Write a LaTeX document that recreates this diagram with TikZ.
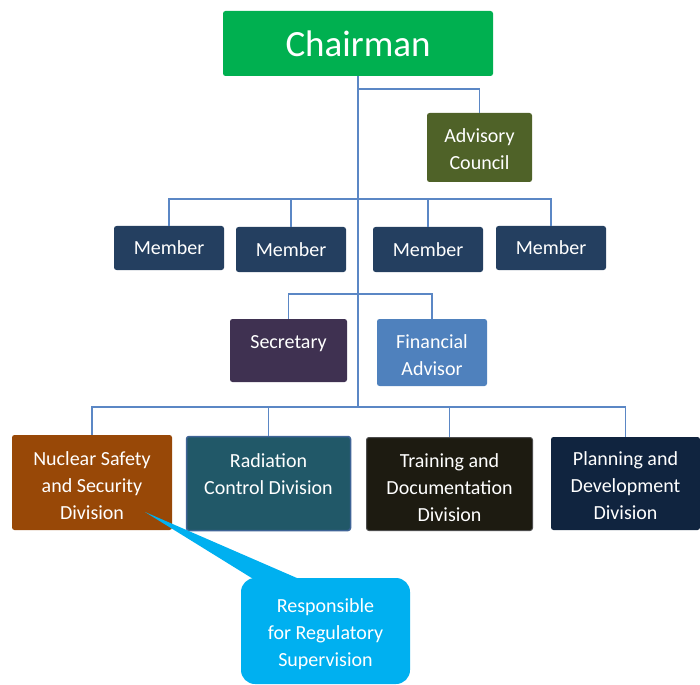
\documentclass[tikz,border=0pt]{standalone}
\usepackage{fontspec}
\setmainfont{Carlito}
\definecolor{cgreen}{HTML}{00B050}
\definecolor{cadv}{HTML}{4F6228}
\definecolor{cmem}{HTML}{243F60}
\definecolor{csec}{HTML}{3F3151}
\definecolor{cfin}{HTML}{4F81BD}
\definecolor{cnuc}{HTML}{984807}
\definecolor{crad}{HTML}{215868}
\definecolor{cradb}{HTML}{3F6496}
\definecolor{ctra}{HTML}{1D1B11}
\definecolor{cpla}{HTML}{10243F}
\definecolor{ccall}{HTML}{00B0F0}
\definecolor{cline}{HTML}{5B87C5}
\tikzset{
  orgbox/.style={rectangle, rounded corners=2.5pt, inner sep=0pt, align=center,
    text=white, font=\fontsize{20}{27}\selectfont},
  lbl/.style={inner sep=0pt, align=center, text=white, font=\fontsize{20}{27}\selectfont},
  conn/.style={draw=cline, line width=1.4pt},
}
\begin{document}
\begin{tikzpicture}[x=1pt,y=-1pt]
\useasboundingbox (0,0) rectangle (700,684);
% coordinates of junctions
\coordinate (advj) at (358,89);
\coordinate (memj) at (358,199);
\coordinate (secj) at (358,294);
\coordinate (divj) at (358,407);

% nodes
\node[orgbox, fill=cgreen, minimum width=270pt, minimum height=65pt, font=\fontsize{37}{40}\selectfont] (chair) at (358,43.5) {Chairman};
\node[orgbox, fill=cadv, minimum width=105pt, minimum height=69pt,
  label={[lbl, yshift=-2pt]center:Advisory\\Council}] (adv) at (479.5,147.5) {};
\node[orgbox, fill=cmem, minimum width=110pt, minimum height=44pt] (m1) at (169,248) {Member};
\node[orgbox, fill=cmem, minimum width=110pt, minimum height=45pt] (m2) at (291,249.5) {Member};
\node[orgbox, fill=cmem, minimum width=110pt, minimum height=45pt] (m3) at (428,249.5) {Member};
\node[orgbox, fill=cmem, minimum width=110pt, minimum height=44pt] (m4) at (551,248) {Member};
\node[orgbox, fill=csec, minimum width=117pt, minimum height=63pt,
  label={[lbl, yshift=7pt]center:Secretary}] (sec) at (288.5,350.5) {};
\node[orgbox, fill=cfin, minimum width=110pt, minimum height=67pt,
  label={[lbl, yshift=-3pt]center:Financial\\Advisor}] (fin) at (432,352.5) {};
\node[orgbox, fill=cnuc, minimum width=160pt, minimum height=95pt,
  label={[lbl, yshift=-3pt]center:Nuclear Safety\\and Security\\Division}] (d1) at (92,482.5) {};
\node[orgbox, fill=crad, draw=cradb, line width=1.5pt, minimum width=164pt, minimum height=94pt,
  label={[lbl, yshift=9pt]center:Radiation\\Control Division}] (d2) at (268.5,483.5) {};
\node[orgbox, fill=ctra, draw=black!70, line width=1pt, minimum width=166pt, minimum height=93pt,
  label={[lbl, yshift=-4pt]center:Training and\\Documentation\\Division}] (d3) at (449.5,484) {};
\node[orgbox, fill=cpla, minimum width=149pt, minimum height=93pt,
  label={[lbl, yshift=-2pt]center:Planning and\\Development\\Division}] (d4) at (625.5,483.5) {};

% connectors
\draw[conn] (chair.south) -- (divj);
\draw[conn] (advj) -| (adv.north);
\draw[conn] (m1.north) |- (memj) -| (m4.north);
\draw[conn] (m2.north) -- (m2.north |- memj);
\draw[conn] (m3.north) -- (m3.north |- memj);
\draw[conn] (sec.north) |- (secj) -| (fin.north);
\draw[conn] (d1.north) |- (divj) -| (d4.north);
\draw[conn] (d2.north) -- (d2.north |- divj);
\draw[conn] (d3.north) -- (d3.north |- divj);

% callout
\coordinate (tip) at (145,512);
\coordinate (pb1) at (263,585);
\coordinate (pb2) at (313,585);
\fill[ccall] (tip) -- (pb1) -- (pb2) -- cycle;
\node[orgbox, fill=ccall, rounded corners=14pt, minimum width=169pt, minimum height=106pt,
  label={[lbl, yshift=-3pt]center:Responsible\\for Regulatory\\Supervision}] (call) at (325.5,631) {};
\end{tikzpicture}
\end{document}
